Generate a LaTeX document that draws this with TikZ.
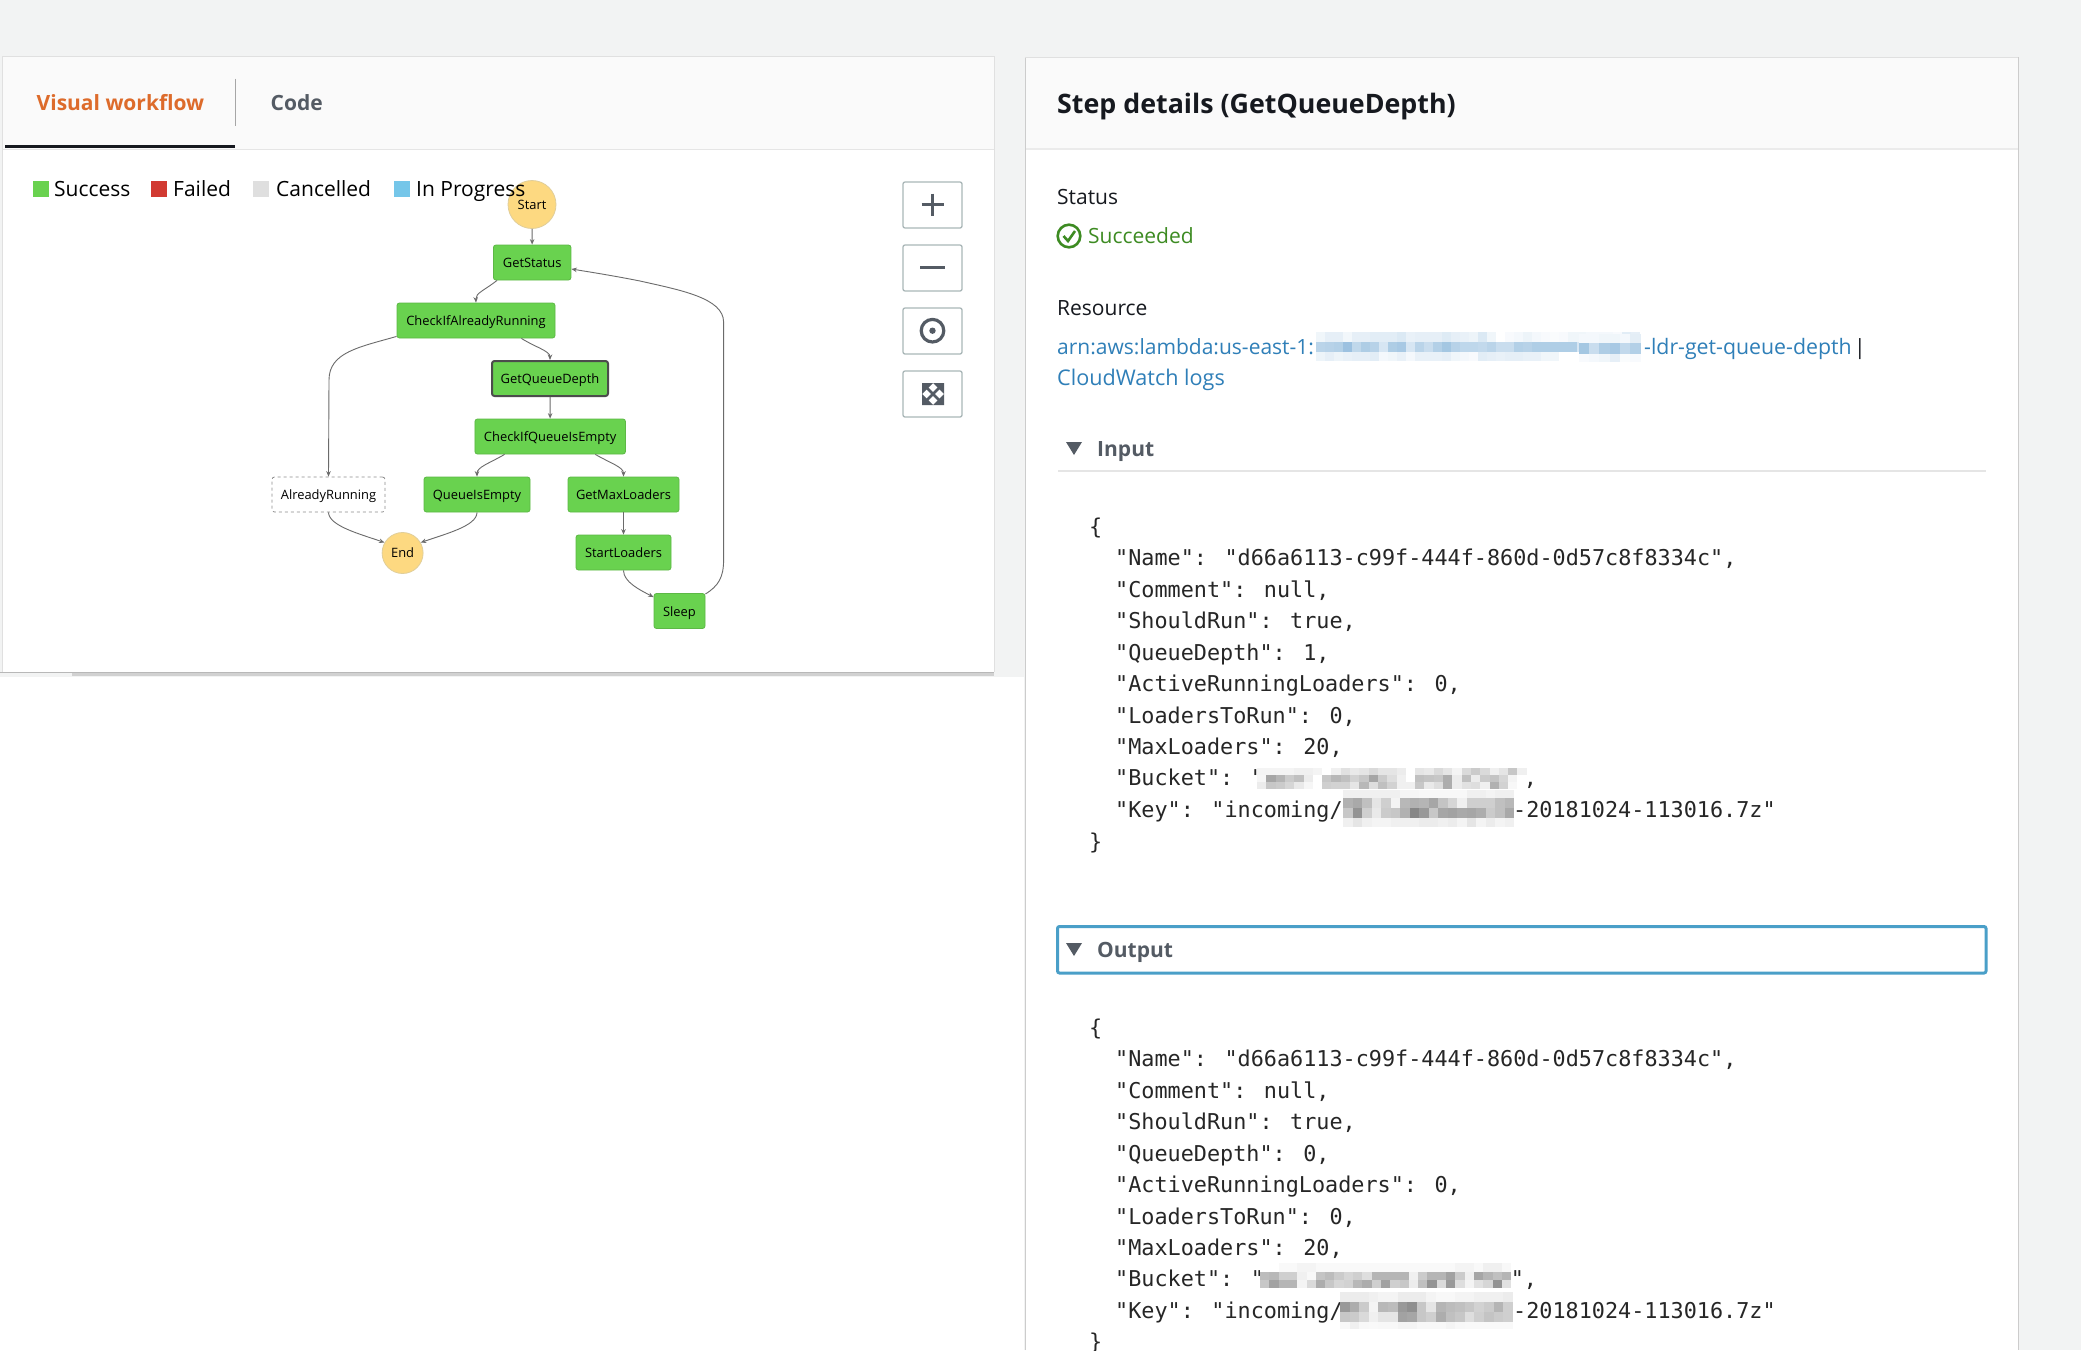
\documentclass[tikz,border=0pt]{standalone}
\usepackage{fontspec}
\usetikzlibrary{arrows.meta,calc,shapes.geometric}
\setmainfont{Open Sans}
\newfontfamily\jsonfont{DejaVu Sans Mono}
\definecolor{pagebg}{HTML}{F2F3F3}
\definecolor{headbg}{HTML}{FAFAFA}
\definecolor{okgreen}{HTML}{69D24F}
\definecolor{okedge}{HTML}{5DB846}
\definecolor{startfill}{HTML}{FDD981}
\definecolor{startedge}{HTML}{E0CE9A}
\definecolor{wire}{HTML}{6B6B6B}
\definecolor{iconc}{HTML}{545B64}
\definecolor{btnedge}{HTML}{AAB7B8}
\definecolor{orangetab}{HTML}{DD6B2B}
\definecolor{inkdark}{HTML}{16191F}
\definecolor{linkblue}{HTML}{2F7FB8}
\definecolor{succgreen}{HTML}{3D8B22}
\definecolor{focusblue}{HTML}{4A9FC8}
\definecolor{failred}{HTML}{D13A32}
\definecolor{cancgray}{HTML}{DFDFDF}
\definecolor{progblue}{HTML}{75C6E9}
\definecolor{blurblue}{HTML}{4A8FC6}
\definecolor{blurgray}{HTML}{454545}
\newcommand{\blurcells}[6]{%
  \foreach \v [count=\k from 0] in {#6} {
    \fill[#5!\v!white] ({#1+\k*#3},#2) rectangle ++({#3+0.3},#4);
  }%
}
\tikzset{
  x=1pt,y=-1pt,
  stepbox/.style={draw=okedge,fill=okgreen,rounded corners=2.5pt,line width=0.8pt,inner sep=0pt,text=black,text height=12pt,text depth=2pt,font=\fontsize{12.9}{12.9}\selectfont},
  roundstate/.style={circle,draw=startedge,fill=startfill,line width=0.8pt,inner sep=0pt,minimum size=#1,text=black,font=\fontsize{12.9}{12.9}\selectfont},
  wireline/.style={draw=wire,line width=0.9pt,-{Stealth[length=5.5pt,width=4.5pt]}},
  lbl/.style={anchor=west,inner sep=0pt,text height=19pt,text depth=5pt,font=\fontsize{#1}{#1}\selectfont},
  jsonl/.style={anchor=west,inner sep=0pt,text height=20pt,text depth=5pt,text=black!85,font=\jsonfont\fontsize{21.8}{21.8}\selectfont},
  btn/.style={draw=btnedge,fill=white,rounded corners=2pt,line width=1.3pt},
  swatch/.style={inner sep=0pt,minimum width=16pt,minimum height=16pt},
}
\begin{document}
\begin{tikzpicture}
\useasboundingbox (0,0) rectangle (2081,1350);
\fill[pagebg] (0,0) rectangle (2081,1350);
\fill[white] (0,677) rectangle (1024,1350);
% left panel
\fill[black!18] (72,672) rectangle (994,676);
\fill[white] (2,56) rectangle (994,672);
\fill[headbg] (2,56) rectangle (994,149);
\draw[black!10,line width=1pt] (2,149) -- (994,149);
\draw[black!12,line width=1pt] (2,672) -- (2,56) -- (994,56) -- (994,672);
\draw[black!28,line width=1pt] (0,672.8) -- (994,672.8);
\node[lbl=21,text=orangetab] (tabv) at (36.5,103) {\bfseries Visual workflow};
\node[lbl=21,text=iconc] (tabc) at (270.5,103) {\bfseries Code};
\draw[black!35,line width=1.3pt] (235.5,78.5) -- (235.5,125.5);
\fill[inkdark] (5,145) rectangle (235,148);
% buttons
\draw[btn] (903,182) rectangle (962,228);
\draw[btn] (903,245) rectangle (962,291);
\draw[btn] (903,308) rectangle (962,354);
\draw[btn] (903,371) rectangle (962,417);
\draw[iconc,line width=3pt] (921.5,204.5) -- (943.5,204.5) (932.5,193.5) -- (932.5,215.5);
\draw[iconc,line width=3pt] (920,267.5) -- (945,267.5);
\draw[iconc,line width=3.2pt] (932.5,330.7) circle[radius=11.3];
\fill[iconc] (932.5,330.7) circle[radius=3.2];
\fill[iconc] (922,383) -- (933,383) -- (922,394) -- cycle (944,383) -- (933,383) -- (944,394) -- cycle
  (922,405) -- (933,405) -- (922,394) -- cycle (944,405) -- (933,405) -- (944,394) -- cycle;
\draw[iconc,line width=2.8pt] (924,385) -- (942,403) (942,385) -- (924,403);
% state machine
\node[roundstate=48pt] (start) at (532,204.5) {Start};
\node[stepbox,minimum width=77.5pt,minimum height=35pt] (gs) at (532.2,262.5) {GetStatus};
\node[stepbox,minimum width=158pt,minimum height=35pt] (cr) at (476,320.5) {CheckIfAlreadyRunning};
\node[stepbox,draw=black!70,line width=2pt,minimum width=116pt,minimum height=35pt] (gq) at (550,378.5) {GetQueueDepth};
\node[stepbox,minimum width=150.5pt,minimum height=35pt] (cq) at (550.2,436.5) {CheckIfQueueIsEmpty};
\node[stepbox,fill=white,draw=black!45,dashed,minimum width=113pt,minimum height=35pt] (ar) at (328.5,494.5) {AlreadyRunning};
\node[stepbox,minimum width=106pt,minimum height=35pt] (qe) at (477,494.5) {QueueIsEmpty};
\node[stepbox,minimum width=111pt,minimum height=35pt] (gm) at (623.5,494.5) {GetMaxLoaders};
\node[stepbox,minimum width=95pt,minimum height=35pt] (sl) at (623.5,552.5) {StartLoaders};
\node[stepbox,minimum width=51pt,minimum height=35pt] (sp) at (679.5,611) {Sleep};
\node[roundstate=41pt] (en) at (402.6,553) {End};
\draw[wireline] (start) -- (gs);
\draw[wireline] ($(gs.south west)+(4,0)$) .. controls (485,290) and (475.5,293) .. (cr.north);
\draw[wireline] ($(cr.south west)+(0,-2)$) .. controls (360,347) and (329,352) .. (329,380) -- (ar.north);
\draw[wireline] ($(cr.south east)+(-34,0)$) .. controls (535,347) and (550,351) .. (gq.north);
\draw[wireline] (gq) -- (cq);
\draw[wireline] ($(cq.south west)+(30,0)$) .. controls (490,463) and (477,467) .. (qe.north);
\draw[wireline] ($(cq.south east)+(-30.5,0)$) .. controls (610,463) and (623.5,467) .. (gm.north);
\draw[wireline] (gm) -- (sl);
\draw[wireline] (sl.south) .. controls (623.5,582) and (640,590) .. ($(sp.north west)+(0,4)$);
\draw[wireline] (ar.south) .. controls (329,526) and (360,534) .. (en.150);
\draw[wireline] (qe.south) .. controls (477,526) and (445,534) .. (en.30);
\draw[wireline] ($(sp.north east)+(0,1)$) .. controls (718,586) and (723.6,578) .. (723.6,560) -- (723.6,322)
  .. controls (723.6,298) and (680,290) .. (640,281) .. controls (615,276) and (590,272) .. ($(gs.east)+(0,6.5)$);
% legend (printed over the Start state)
\node[swatch,fill=okgreen] (lg1) at (41,189) {};
\node[lbl=21] (lt1) at (54,189) {Success};
\node[swatch,fill=failred] (lg2) at (159,189) {};
\node[lbl=21] (lt2) at (173,189) {Failed};
\node[swatch,fill=cancgray] (lg3) at (261,189) {};
\node[lbl=21] (lt3) at (276,189) {Cancelled};
\node[swatch,fill=progblue] (lg4) at (401.5,189) {};
\node[lbl=21] (lt4) at (416,189) {In Progress};
% right panel
\fill[white] (1025,57) rectangle (2018,1350);
\fill[headbg] (1025,57) rectangle (2018,149);
\draw[black!8,line width=1.5pt] (1025,149) -- (2018,149);
\draw[black!20,line width=1pt] (1025,1350) -- (1025,57);
\draw[black!12,line width=1pt] (1025,57) -- (2018,57);
\draw[black!20,line width=1pt] (2018,57) -- (2018,1350);
\node[lbl=26.8,text=inkdark,text height=25pt,text depth=7pt] (title) at (1057,104) {\bfseries Step details (GetQueueDepth)};
\node[lbl=21,text=inkdark] (stl) at (1057,197) {Status};
\draw[succgreen,line width=2.6pt] (1069,236) circle[radius=11.3];
\draw[succgreen,line width=2.6pt] (1063.5,236) -- (1068,241) -- (1075,231);
\node[lbl=21,text=succgreen] (stv) at (1088,236) {Succeeded};
\node[lbl=21,text=inkdark] (res) at (1057,308) {Resource};
\node[lbl=21,text=linkblue] (arn1) at (1057,347) {arn:aws:lambda:us-east-1:};
\node[lbl=21.3,text=linkblue] (arn2) at (1644,347) {-ldr-get-queue-depth};
\node[lbl=21,text=inkdark] (bar) at (1854,347) {|};
\node[lbl=21.6,text=linkblue] (cw) at (1057,378) {CloudWatch logs};
\blurcells{1316}{332}{9}{10}{blurblue}{8,14,14,7,14,14,16,16,16,20,12,14,14,14,18,14,12,10,20,8,0,4,6,10,6,4,3,4,8,8,6,6,6,4,16,14}
\blurcells{1316}{342}{9}{10}{blurblue}{38,40,42,55,35,45,40,22,45,48,22,38,30,42,50,40,36,36,34,38,30,30,42,40,44,44,44,44,44,22,0,0,0,0,0,0}
\blurcells{1316}{352}{9}{9}{blurblue}{10,14,10,12,14,14,16,6,8,12,6,12,12,12,14,8,6,4,16,14,12,14,14,12,12,8,8,0,0,0,0,0,0,0,0,0}
\blurcells{1579}{343}{10.2}{11}{blurblue}{50,30,45,48,34,42}
\blurcells{1579}{334}{10.2}{9}{blurblue}{6,6,8,8,6,15}
\blurcells{1579}{354}{10.2}{8}{blurblue}{4,6,8,14,3,4}
\node[lbl=21,text=iconc] (inp) at (1097,449) {\bfseries Input};
\fill[iconc] (1066,442) -- (1082,442) -- (1074,455) -- cycle;
\draw[black!10,line width=1.4pt] (1058,471) -- (1986,471);
% input json
\node[jsonl] (i0) at (1089,527) {\{};
\node[jsonl] (i1) at (1115,558) {"Name": "d66a6113-c99f-444f-860d-0d57c8f8334c",};
\node[jsonl] (i2) at (1115,589.5) {"Comment": null,};
\node[jsonl] (i3) at (1115,621) {"ShouldRun": true,};
\node[jsonl] (i4) at (1115,653) {"QueueDepth": 1,};
\node[jsonl] (i5) at (1115,684) {"ActiveRunningLoaders": 0,};
\node[jsonl] (i6) at (1115,716) {"LoadersToRun": 0,};
\node[jsonl] (i7) at (1115,747) {"MaxLoaders": 20,};
\node[jsonl] (i8) at (1115,778) {"Bucket": "};
\node[jsonl] (i8b) at (1510.6,778) {",};
\node[jsonl] (i9) at (1115,810) {"Key": "incoming/};
\node[jsonl] (i9b) at (1513,810) {-20181024-113016.7z"};
\node[jsonl] (i10) at (1089,842) {\}};
\blurcells{1257}{768}{9.3}{7}{blurgray}{6,6,6,6,8,8,6,0,8,16,12,14,20,14,14,10,0,14,12,20,14,6,20,28,20,8,14,30,8}
\blurcells{1257}{775}{9.3}{7}{blurgray}{5,48,40,28,34,10,0,30,38,34,24,30,48,28,18,8,0,34,32,30,44,10,34,10,28,32,22,6,0}
\blurcells{1257}{782}{9.3}{7}{blurgray}{10,30,28,22,12,5,0,26,24,24,14,38,18,34,24,8,8,30,12,18,44,10,16,18,8,42,24,4,0}
\blurcells{1343}{790}{9.5}{8}{blurgray}{8,8,8,8,8,8,5,5,4,4,4,4,4,8,8,6,8,8}
\blurcells{1343}{798}{9.5}{10}{blurgray}{42,46,34,14,26,6,38,42,40,48,32,22,8,26,26,26,34,38}
\blurcells{1343}{808}{9.5}{10}{blurgray}{30,58,26,12,28,30,42,65,55,30,48,50,46,48,44,28,34,46}
\blurcells{1343}{818}{9.5}{9}{blurgray}{8,14,8,6,6,8,8,8,10,10,8,10,6,14,6,10,6,8}
% output
\draw[focusblue,line width=3pt,rounded corners=2pt] (1057.5,926.5) rectangle (1986,973);
\fill[iconc] (1066,943) -- (1082,943) -- (1074,956) -- cycle;
\node[lbl=21,text=iconc] (outp) at (1097,950) {\bfseries Output};
\node[jsonl] (o0) at (1089,1028) {\{};
\node[jsonl] (o1) at (1115,1059) {"Name": "d66a6113-c99f-444f-860d-0d57c8f8334c",};
\node[jsonl] (o2) at (1115,1091) {"Comment": null,};
\node[jsonl] (o3) at (1115,1122) {"ShouldRun": true,};
\node[jsonl] (o4) at (1115,1154) {"QueueDepth": 0,};
\node[jsonl] (o5) at (1115,1185) {"ActiveRunningLoaders": 0,};
\node[jsonl] (o6) at (1115,1217) {"LoadersToRun": 0,};
\node[jsonl] (o7) at (1115,1248) {"MaxLoaders": 20,};
\node[jsonl] (o8) at (1115,1279) {"Bucket": "};
\node[jsonl] (o8b) at (1510.6,1279) {",};
\node[jsonl] (o9) at (1115,1311) {"Key": "incoming/};
\node[jsonl] (o9b) at (1513,1311) {-20181024-113016.7z"};
\node[jsonl] (o10) at (1089,1342) {\}};
\blurcells{1260}{1263}{9.3}{9}{blurgray}{0,0,3,3,6,6,3,3,3,3,3,3,3,3,3,3,3,3,3,3,3,6,6,3,8,8,4}
\blurcells{1260}{1272}{9.3}{8}{blurgray}{36,38,26,26,8,4,32,36,28,22,26,18,40,40,40,40,8,28,40,40,50,28,8,48,40,34,40}
\blurcells{1260}{1280}{9.3}{8}{blurgray}{30,50,40,40,6,20,44,30,22,24,38,44,26,50,26,30,10,34,58,20,55,18,6,16,22,58,16}
\blurcells{1340}{1292}{9.6}{10}{blurgray}{10,10,10,8,6,6,10,10,10,6,4,4,6,6,8,8,8,10}
\blurcells{1340}{1302}{9.6}{10}{blurgray}{55,44,28,6,38,36,55,60,30,14,40,36,34,30,24,28,40,26}
\blurcells{1340}{1312}{9.6}{10}{blurgray}{30,28,20,8,14,14,50,48,30,26,44,34,30,18,26,32,28,26}
\blurcells{1340}{1322}{9.6}{7}{blurgray}{4,8,4,3,4,4,6,6,4,4,4,6,4,3,3,3,3,3}
\end{tikzpicture}
\end{document}
